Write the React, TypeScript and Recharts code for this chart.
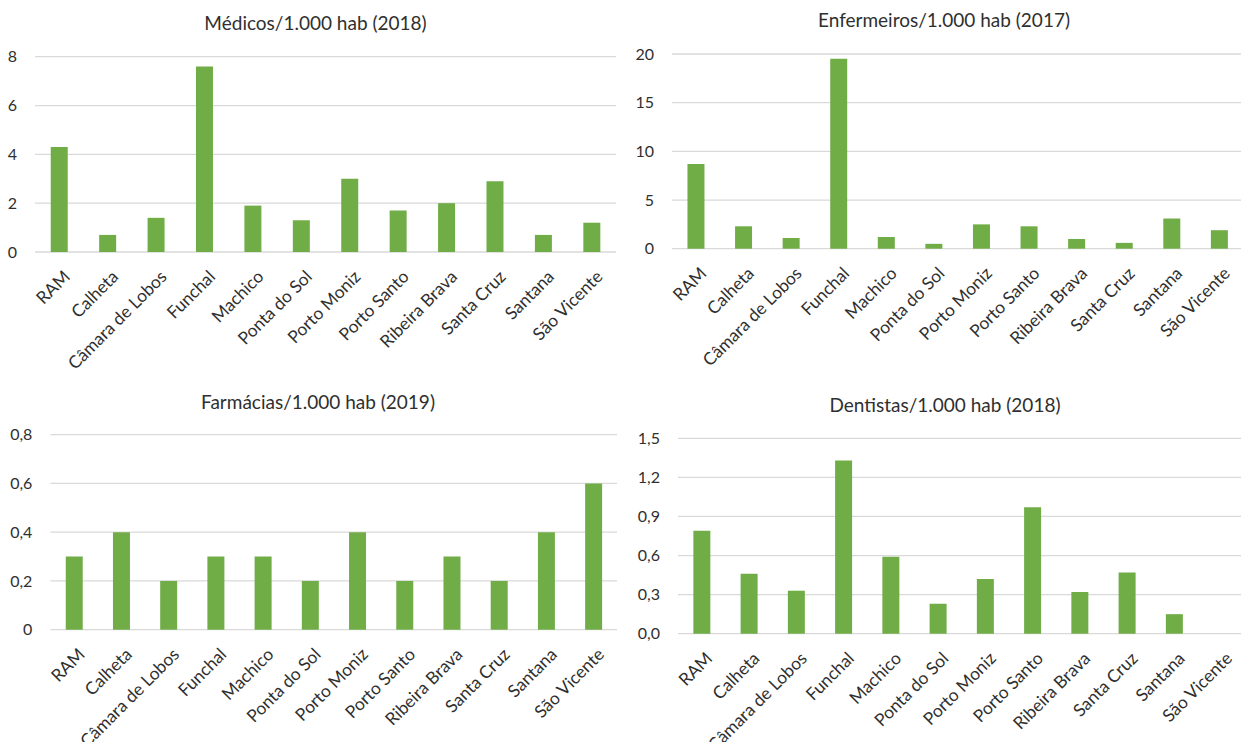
import React from 'react';
import { BarChart, Bar, XAxis, YAxis, CartesianGrid } from 'recharts';

const municipios = [
  'RAM',
  'Calheta',
  'Câmara de Lobos',
  'Funchal',
  'Machico',
  'Ponta do Sol',
  'Porto Moniz',
  'Porto Santo',
  'Ribeira Brava',
  'Santa Cruz',
  'Santana',
  'São Vicente',
];

const medicos2018 = [4.3, 0.7, 1.4, 7.6, 1.9, 1.3, 3.0, 1.7, 2.0, 2.9, 0.7, 1.2];
const enfermeiros2017 = [8.7, 2.3, 1.1, 19.5, 1.2, 0.5, 2.5, 2.3, 1.0, 0.6, 3.1, 1.9];
const farmacias2019 = [0.3, 0.4, 0.2, 0.3, 0.3, 0.2, 0.4, 0.2, 0.3, 0.2, 0.4, 0.6];
const dentistas2018 = [0.79, 0.46, 0.33, 1.33, 0.59, 0.23, 0.42, 0.97, 0.32, 0.47, 0.15, 0];

const medicosTicks = [0, 2, 4, 6, 8];
const enfermeirosTicks = [0, 5, 10, 15, 20];
const farmaciasTicks = [0, 0.2, 0.4, 0.6, 0.8];
const dentistasTicks = [0, 0.3, 0.6, 0.9, 1.2, 1.5];

const GREEN = '#70AD47';
const GRID = '#D9D9D9';
const TEXT = '#2f2f2f';
const FONT = 'Lato, "Open Sans", sans-serif';

const intFmt = (v: number) => String(v);
const commaFmt = (v: number) => (v === 0 ? '0' : v.toFixed(1).replace('.', ','));
const commaFmtZero = (v: number) => v.toFixed(1).replace('.', ',');

const CategoryTick = (props: any) => {
  const { x, y, payload } = props;
  return (
    <g transform={`translate(${x + 3},${y + 17})`}>
      <text transform="rotate(-45)" textAnchor="end" dy="0.72em" fill={TEXT} fontSize={17.4} fontFamily={FONT}>
        {payload.value}
      </text>
    </g>
  );
};

type PanelProps = {
  title: string;
  values: number[];
  ticks: number[];
  fmt: (v: number) => string;
  left: number;
  top: number;
  width: number;
  height: number;
  plotLeft: number;
  plotRight: number;
  plotTop: number;
  plotBottom: number;
  titleX: number;
  titleY: number;
};

function Panel(p: PanelProps) {
  const data = municipios.map((name, i) => ({ name, v: p.values[i] }));
  const titleSize = 19;
  return (
    <div style={{ position: 'absolute', left: p.left, top: p.top, width: p.width, height: p.height }}>
      <div
        style={{
          position: 'absolute',
          left: p.titleX - p.left - 200,
          top: p.titleY - p.top - titleSize * 0.987,
          width: 400,
          textAlign: 'center',
          fontSize: titleSize,
          lineHeight: `${titleSize * 1.2}px`,
          color: TEXT,
          fontFamily: FONT,
          whiteSpace: 'nowrap',
        }}
      >
        {p.title}
      </div>
      <BarChart
        width={p.width}
        height={p.height}
        data={data}
        barCategoryGap="32.5%"
        margin={{ top: p.plotTop - p.top, right: p.left + p.width - p.plotRight, bottom: 0, left: 0 }}
      >
        <CartesianGrid vertical={false} stroke={GRID} strokeWidth={1.3} />
        <XAxis
          dataKey="name"
          interval={0}
          axisLine={false}
          tickLine={false}
          tickSize={0}
          tickMargin={0}
          height={p.top + p.height - p.plotBottom}
          tick={<CategoryTick />}
        />
        <YAxis
          width={p.plotLeft - p.left}
          domain={[p.ticks[0], p.ticks[p.ticks.length - 1]]}
          ticks={p.ticks}
          tickFormatter={p.fmt}
          axisLine={false}
          tickLine={false}
          tickSize={0}
          tickMargin={18}
          tick={{ fill: TEXT, fontSize: 16, fontFamily: FONT }}
        />
        <Bar dataKey="v" fill={GREEN} isAnimationActive={false} />
      </BarChart>
    </div>
  );
}

export default function App() {
  return (
    <div
      style={{
        position: 'absolute',
        left: 0,
        top: 0,
        width: 1241,
        height: 742,
        overflow: 'hidden',
        background: '#fff',
        fontFamily: FONT,
      }}
    >
      <Panel
        title="Médicos/1.000 hab (2018)"
        values={medicos2018}
        ticks={medicosTicks}
        fmt={intFmt}
        left={0}
        top={0}
        width={625}
        height={372}
        plotLeft={35}
        plotRight={616}
        plotTop={56.7}
        plotBottom={252}
        titleX={315.5}
        titleY={30.5}
      />
      <Panel
        title="Enfermeiros/1.000 hab (2017)"
        values={enfermeiros2017}
        ticks={enfermeirosTicks}
        fmt={intFmt}
        left={625}
        top={0}
        width={625}
        height={372}
        plotLeft={672}
        plotRight={1243}
        plotTop={54}
        plotBottom={248.7}
        titleX={944}
        titleY={27.5}
      />
      <Panel
        title="Farmácias/1.000 hab (2019)"
        values={farmacias2019}
        ticks={farmaciasTicks}
        fmt={commaFmt}
        left={0}
        top={375}
        width={625}
        height={367}
        plotLeft={50.4}
        plotRight={617}
        plotTop={434.7}
        plotBottom={629.7}
        titleX={318}
        titleY={409.5}
      />
      <Panel
        title="Dentistas/1.000 hab (2018)"
        values={dentistas2018}
        ticks={dentistasTicks}
        fmt={commaFmtZero}
        left={625}
        top={375}
        width={625}
        height={367}
        plotLeft={678}
        plotRight={1245}
        plotTop={438.3}
        plotBottom={633.7}
        titleX={945}
        titleY={413}
      />
    </div>
  );
}
